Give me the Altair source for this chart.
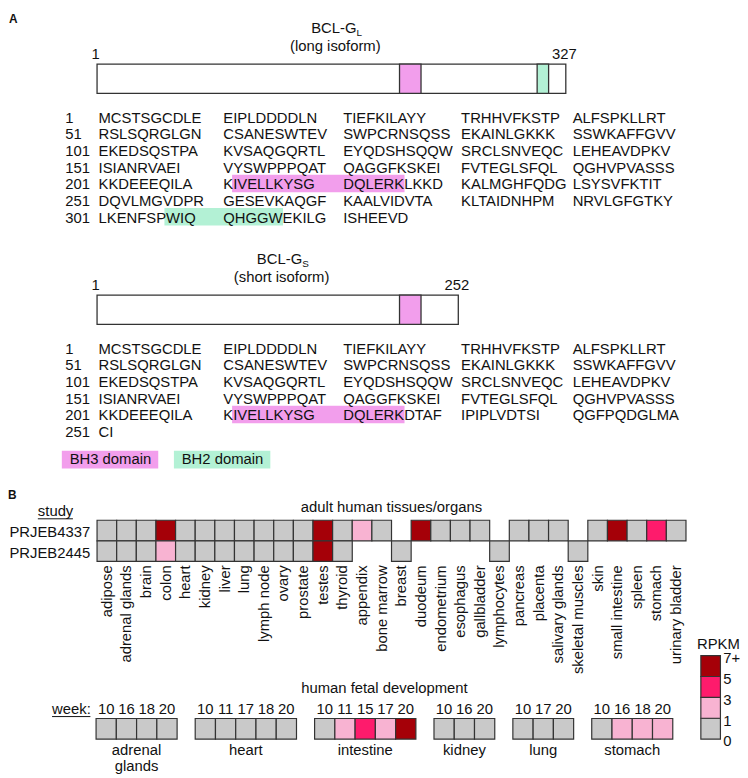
import altair as alt
import pandas as pd

# ------------------------------------------------------------------ data
ISO_NAMES = ["BCL-G", "BCL-G"]
ISO_SUBS = ["L", "S"]
ISO_DESCS = ["(long isoform)", "(short isoform)"]
SEQ_LONG = (
    "MCSTSGCDLEEIPLDDDDLNTIEFKILAYYTRHHVFKSTPALFSPKLLRT"
    "RSLSQRGLGNCSANESWTEVSWPCRNSQSSEKAINLGKKKSSWKAFFGVV"
    "EKEDSQSTPAKVSAQGQRTLEYQDSHSQQWSRCLSNVEQCLEHEAVDPKV"
    "ISIANRVAEIVYSWPPPQATQAGGFKSKEIFVTEGLSFQLQGHVPVASSS"
    "KKDEEEQILAKIVELLKYSGDQLERKLKKDKALMGHFQDGLSYSVFKTIT"
    "DQVLMGVDPRGESEVKAQGFKAALVIDVTAKLTAIDNHPMNRVLGFGTKY"
    "LKENFSPWIQQHGGWEKILGISHEEVD"
)
SEQ_SHORT = SEQ_LONG[:200] + "KKDEEEQILAKIVELLKYSGDQLERKDTAFIPIPLVDTSIQGFPQDGLMACI"
ISO_SEQS = [SEQ_LONG, SEQ_SHORT]

DOMAIN_NAMES = ["BH3 domain", "BH2 domain"]
DOMAIN_STARTS = [212, 308]
DOMAIN_ENDS = [226, 315]
DOMAIN_COLORS = ["#f29eec", "#b3f1d5"]

TISSUES = ["adipose", "adrenal glands", "brain", "colon", "heart", "kidney", "liver",
           "lung", "lymph node", "ovary", "prostate", "testes", "thyroid", "appendix",
           "bone marrow", "breast", "duodeum", "endometrium", "esophagus", "gallbladder",
           "lymphocytes", "pancreas", "placenta", "salivary glands", "skeletal muscles",
           "skin", "small intestine", "spleen", "stomach", "urinary bladder"]
STUDIES = ["PRJEB4337", "PRJEB2445"]
RPKM_PRJEB4337 = [0.2, 0.3, 0.1, 7.5, 0.1, 0.3, 0.1, 0.4, 0.3, 0.2, 0.5, 9.0, 0.3, 2.0,
                  0.4, None, 7.2, 0.3, 0.6, 0.5, None, 0.2, 0.2, 0.5, None, 0.3, 8.0,
                  0.4, 4.0, 0.5]
RPKM_PRJEB2445 = [0.1, 0.2, 0.1, 1.8, 0.1, 0.2, 0.1, 0.3, 0.4, 0.1, 0.3, 10.0, 0.2, None,
                  None, 0.3, None, None, None, None, 0.5, None, None, None, 0.1, None,
                  None, None, None, None]

FETAL_ORGANS = ["adrenal\nglands", "heart", "intestine", "kidney", "lung", "stomach"]
FETAL_WEEKS = [[10, 16, 18, 20], [10, 11, 17, 18, 20], [10, 11, 15, 17, 20],
               [10, 16, 20], [10, 17, 20], [10, 16, 18, 20]]
FETAL_RPKM = [[0.2, 0.3, 0.3, 0.4], [0.1, 0.1, 0.2, 0.2, 0.2], [0.6, 2.0, 4.2, 1.8, 8.0],
              [0.1, 0.2, 0.2], [0.2, 0.3, 0.3], [0.7, 1.5, 1.6, 2.1]]

RPKM_BREAKS = [1, 3, 5]
RPKM_COLORS = ["#c9c9c9", "#f8b3d2", "#fe1b6c", "#a50008"]
RPKM_TICK_VALUES = [0, 1, 3, 5, 7]
RPKM_TICK_LABELS = ["0", "1", "3", "5", "7+"]

# ------------------------------------------------------------------ layout / style
FONT = "Liberation Sans"
TXT = "#111111"
EDGE = "#333333"
ISO_Y0 = [0, 236]
TITLE_BASE, SUB_DROP, DESC_BASE, ENDNUM_BASE = 21.5, 2.5, 40, 47.5
BAR_TOP, BAR_BOT = 53, 83
BAR_X0, PX_PER_RES = 91, 479 / 327
SEQ_BASE0, ROW_PITCH = 113, 17
SEQ_NUM_X = 58.5
SEQ_COL_X = [92.5, 220, 342.5, 463, 577]
LEG_Y = (448, 466, 461.5)
LEG_X0, LEG_PAD, LEG_GAP = 55, 8, 16

HEAT_X0, CELL_W, CELL_H = 91, 20.06, 21
HEAT_TOPS = [519, 540]
FET_X0, FET_W, FET_GAP, FET_TOP = 90, 20.7, 18.5, 721.5
CB_X0, CB_X1, CB_BOT, CB_H = 708, 728, 742.5, 21.3

_W = {}
_W.update(dict(zip("ABCDEFGHIJKLMNOPQRSTUVWXYZ",
                   [667, 667, 722, 722, 667, 611, 778, 722, 278, 500, 667, 556, 833, 722,
                    778, 667, 778, 722, 667, 611, 722, 667, 944, 667, 667, 611])))
_W.update(dict(zip("abcdefghijklmnopqrstuvwxyz",
                   [556, 556, 500, 556, 556, 278, 556, 556, 222, 222, 500, 222, 833, 556,
                    556, 556, 556, 333, 500, 278, 556, 500, 722, 500, 500, 500])))
_W.update({c: 556 for c in "0123456789"})
_W.update({" ": 278, "-": 333, "(": 333, ")": 333, ":": 278, "/": 278, "+": 584})


def tw(s, size=15):
    return sum(_W.get(c, 556) for c in s) * size / 1000


texts_left, texts_center, texts_right, texts_rot, texts_bold = [], [], [], [], []
bands, bars, dom_boxes, swatches, cells, rules = [], [], [], [], [], []

# ---------------- panel A
texts_bold.append(dict(x=1, y=11, text="A"))
for k, seq in enumerate(ISO_SEQS):
    y0 = ISO_Y0[k]
    n = len(seq)
    x_end = BAR_X0 + n * PX_PER_RES
    cx = (BAR_X0 + x_end) / 2 + 5
    total = tw(ISO_NAMES[k]) + tw(ISO_SUBS[k], 10)
    left = cx - total / 2
    texts_left.append(dict(x=left, y=y0 + TITLE_BASE, text=ISO_NAMES[k], size=15))
    texts_left.append(dict(x=left + tw(ISO_NAMES[k]) + 0.5, y=y0 + TITLE_BASE + SUB_DROP,
                           text=ISO_SUBS[k], size=10))
    texts_center.append(dict(x=cx - 1, y=y0 + DESC_BASE, text=ISO_DESCS[k], size=15))
    texts_center.append(dict(x=BAR_X0 - 1.5, y=y0 + ENDNUM_BASE, text="1", size=15))
    texts_center.append(dict(x=x_end - 1.5, y=y0 + ENDNUM_BASE, text=str(n), size=15))
    bars.append(dict(x=BAR_X0, x2=x_end, y=y0 + BAR_TOP, y2=y0 + BAR_BOT))
    rows = (n + 49) // 50
    for r in range(rows):
        base = y0 + SEQ_BASE0 + r * ROW_PITCH
        texts_left.append(dict(x=SEQ_NUM_X, y=base, text=str(r * 50 + 1), size=15))
        for b in range(5):
            s = seq[r * 50 + b * 10: r * 50 + b * 10 + 10]
            if s:
                texts_left.append(dict(x=SEQ_COL_X[b], y=base, text=s, size=15))
    for d, name in enumerate(DOMAIN_NAMES):
        st, en = DOMAIN_STARTS[d], DOMAIN_ENDS[d]
        if en > n:
            continue
        dom_boxes.append(dict(x=BAR_X0 + (st - 1) * PX_PER_RES, x2=BAR_X0 + en * PX_PER_RES,
                              y=y0 + BAR_TOP, y2=y0 + BAR_BOT, fill=DOMAIN_COLORS[d]))
        r = (st - 1) // 50
        base = y0 + SEQ_BASE0 + r * ROW_PITCH
        bs, ps = ((st - 1) % 50) // 10, (st - 1) % 10
        be, pe = ((en - 1) % 50) // 10, (en - 1) % 10
        blk_s = seq[r * 50 + bs * 10: r * 50 + bs * 10 + 10]
        blk_e = seq[r * 50 + be * 10: r * 50 + be * 10 + 10]
        xs = SEQ_COL_X[bs] + tw(blk_s[:ps]) - 1
        xe = SEQ_COL_X[be] + tw(blk_e[:pe + 1]) + 1
        bands.append(dict(x=xs, x2=xe, y=base - 15, y2=base + 3, fill=DOMAIN_COLORS[d]))

lx = LEG_X0
for d, name in enumerate(DOMAIN_NAMES):
    wbox = LEG_PAD * 2 + tw(name)
    swatches.append(dict(x=lx, x2=lx + wbox, y=LEG_Y[0], y2=LEG_Y[1], fill=DOMAIN_COLORS[d]))
    texts_left.append(dict(x=lx + LEG_PAD, y=LEG_Y[2], text=name, size=15))
    lx += wbox + LEG_GAP

# ---------------- panel B
texts_bold.append(dict(x=0, y=497, text="B"))
texts_left.append(dict(x=30.5, y=514.5, text="study", size=15))
rules.append(dict(x=30.5, x2=30.5 + tw("study"), y=517.5))
heat_cx = HEAT_X0 + len(TISSUES) * CELL_W / 2
texts_center.append(dict(x=heat_cx, y=511, text="adult human tissues/organs", size=15))
for s, (study, vals) in enumerate(zip(STUDIES, [RPKM_PRJEB4337, RPKM_PRJEB2445])):
    top = HEAT_TOPS[s]
    texts_right.append(dict(x=84, y=top + 17.5, text=study, size=15))
    for i, v in enumerate(vals):
        if v is None:
            continue
        cells.append(dict(x=HEAT_X0 + i * CELL_W, x2=HEAT_X0 + (i + 1) * CELL_W,
                          y=top, y2=top + CELL_H, rpkm=v))
label_top = HEAT_TOPS[-1] + CELL_H + 4
for i, t in enumerate(TISSUES):
    texts_rot.append(dict(x=HEAT_X0 + (i + 0.5) * CELL_W, y=label_top, text=t, size=15))

# fetal
texts_left.append(dict(x=45, y=717, text="week:", size=15))
rules.append(dict(x=45, x2=45 + tw("week:"), y=719.5))
gx = FET_X0
for g, organ in enumerate(FETAL_ORGANS):
    weeks = FETAL_WEEKS[g]
    for j, (wk, v) in enumerate(zip(weeks, FETAL_RPKM[g])):
        x = gx + j * FET_W
        cells.append(dict(x=x, x2=x + FET_W, y=FET_TOP, y2=FET_TOP + CELL_H, rpkm=v))
        texts_center.append(dict(x=x + FET_W / 2, y=717, text=str(wk), size=15))
    gw = len(weeks) * FET_W
    texts_center.append(dict(x=gx + gw / 2, y=759, text=organ, size=15))
    last_end = gx + gw
    gx += gw + FET_GAP
texts_center.append(dict(x=(FET_X0 + last_end) / 2, y=695, text="human fetal development", size=15))

# colour key
texts_left.append(dict(x=704, y=650, text="RPKM", size=15))
for i in range(len(RPKM_COLORS)):
    lo, hi = RPKM_TICK_VALUES[i], RPKM_TICK_VALUES[i + 1]
    cells.append(dict(x=CB_X0, x2=CB_X1, y=CB_BOT - (i + 1) * CB_H, y2=CB_BOT - i * CB_H,
                      rpkm=(lo + hi) / 2))
for i, lab in enumerate(RPKM_TICK_LABELS):
    texts_left.append(dict(x=CB_X1 + 3, y=CB_BOT - i * CB_H + 7.5, text=lab, size=15))

# ------------------------------------------------------------------ chart
XS = alt.Scale(domain=[0, 748], nice=False, zero=False)
YS = alt.Scale(domain=[0, 778], nice=False, zero=False, reverse=True)


def ex(f="x"):
    return alt.X(f"{f}:Q", scale=XS, axis=None)


def ey(f="y"):
    return alt.Y(f"{f}:Q", scale=YS, axis=None)


def rect_enc(extra=None):
    enc = dict(x=ex(), x2=alt.X2("x2:Q"), y=ey(), y2=alt.Y2("y2:Q"))
    if extra:
        enc.update(extra)
    return enc


fill_none = alt.Fill("fill:N", scale=None)
layers = [
    alt.Chart(pd.DataFrame(bands)).mark_rect().encode(**rect_enc({"fill": fill_none})),
    alt.Chart(pd.DataFrame(swatches)).mark_rect().encode(**rect_enc({"fill": fill_none})),
    alt.Chart(pd.DataFrame(bars)).mark_rect(fill="white", stroke=EDGE, strokeWidth=1.3)
    .encode(**rect_enc()),
    alt.Chart(pd.DataFrame(dom_boxes)).mark_rect(stroke=EDGE, strokeWidth=1.3)
    .encode(**rect_enc({"fill": fill_none})),
    alt.Chart(pd.DataFrame(cells)).mark_rect(stroke=EDGE, strokeWidth=1.2).encode(
        **rect_enc({"color": alt.Color("rpkm:Q", legend=None,
                                       scale=alt.Scale(type="threshold", domain=RPKM_BREAKS,
                                                       range=RPKM_COLORS))})),
    alt.Chart(pd.DataFrame(rules)).mark_rule(color=TXT, strokeWidth=1)
    .encode(x=ex(), x2=alt.X2("x2:Q"), y=ey()),
]
size_none = alt.Size("size:Q", scale=None)
for data, align in [(texts_left, "left"), (texts_center, "center"), (texts_right, "right")]:
    layers.append(alt.Chart(pd.DataFrame(data)).mark_text(
        font=FONT, align=align, baseline="alphabetic", color=TXT, lineBreak="\n", lineHeight=16)
        .encode(x=ex(), y=ey(), text="text:N", size=size_none))
layers.append(alt.Chart(pd.DataFrame(texts_rot)).mark_text(
    font=FONT, fontSize=15, align="right", baseline="middle", angle=270, color=TXT)
    .encode(x=ex(), y=ey(), text="text:N"))
layers.append(alt.Chart(pd.DataFrame(texts_bold)).mark_text(
    font=FONT, fontSize=12, fontWeight="bold", align="left", baseline="alphabetic", color=TXT)
    .encode(x=ex(), y=ey(), text="text:N"))

chart = alt.layer(*layers).properties(
    width=740, height=770, padding=0, autosize=alt.AutoSizeParams(type="none")
).configure_view(stroke=None)

chart.save("out.html", embed_options={"renderer": "svg", "actions": False})
